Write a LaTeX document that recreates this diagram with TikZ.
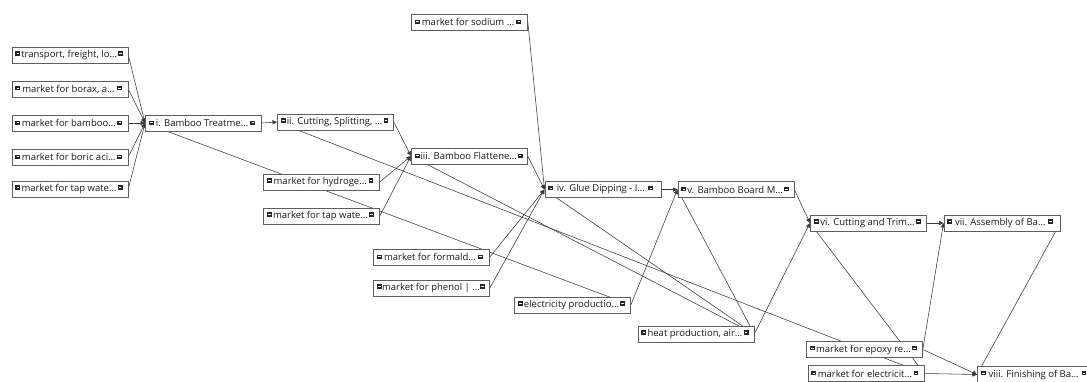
\documentclass[tikz,border=0pt]{standalone}
\usepackage{fontspec}
\setmainfont{Open Sans}
\usetikzlibrary{arrows.meta}
\pgfdeclarelayer{background}
\pgfsetlayers{background,main}

\definecolor{boxline}{HTML}{5E5E5E}
\definecolor{linkline}{HTML}{3A3A3A}
\definecolor{icondark}{HTML}{262626}
\definecolor{txt}{HTML}{1A1A1A}

% small expand/collapse marker shown at both ends of a process box
\newcommand{\boxicon}{\raisebox{1.6pt}{\rlap{\color{icondark}\rule{4.8pt}{4.4pt}}\hspace{1.1pt}\color{white}\rule[1.7pt]{2.6pt}{1pt}\hspace{1.1pt}}}
\newcommand{\proclabel}[1]{\makebox[116pt][l]{\hspace{3.5pt}\boxicon\hfil#1\hfil\boxicon\hspace{4pt}}}

\tikzset{
  proc/.style={draw=boxline, line width=0.8pt, fill=white, rectangle,
    minimum width=116pt, minimum height=16pt, inner sep=0pt, anchor=west,
    font=\fontsize{9.5}{11}\selectfont, text=txt},
  link/.style={draw=linkline, line width=0.55pt,
    -{Triangle[length=4.5pt,width=4.2pt]}},
}

\begin{document}
\begin{tikzpicture}[x=1pt,y=-1pt]
\useasboundingbox (0,0) rectangle (1087,381);
\begin{pgfonlayer}{background}
  \fill[white] (0,0) rectangle (1087,381);
\end{pgfonlayer}

% inputs of stage i
\node[proc] (transport) at (11.5,55)  {\proclabel{transport, freight, lo…}};
\node[proc] (borax)     at (11.5,89)  {\proclabel{market for borax, a…}};
\node[proc] (bamboo)    at (11.5,123) {\proclabel{market for bamboo…}};
\node[proc] (boric)     at (11.5,157) {\proclabel{market for boric aci…}};
\node[proc] (tapA)      at (11.5,189) {\proclabel{market for tap wate…}};

% process chain
\node[proc] (s1) at (145,123)   {\proclabel{i. Bamboo Treatme…}};
\node[proc] (s2) at (277,122)   {\proclabel{ii. Cutting, Splitting, …}};
\node[proc] (s3) at (411,156)   {\proclabel{iii. Bamboo Flattene…}};
\node[proc] (s4) at (544.5,189.5) {\proclabel{iv. Glue Dipping - I…}};
\node[proc] (s5) at (677.5,189.5) {\proclabel{v. Bamboo Board M…}};
\node[proc] (s6) at (810,223)   {\proclabel{vi. Cutting and Trim…}};
\node[proc] (s7) at (943.5,223) {\proclabel{vii. Assembly of Ba…}};
\node[proc] (s8) at (977,374.5) {\proclabel{viii. Finishing of Ba…}};

% other providers
\node[proc] (hydrogen) at (263,182)   {\proclabel{market for hydroge…}};
\node[proc] (tapB)     at (263,216)   {\proclabel{market for tap wate…}};
\node[proc] (sodium)   at (411,22)    {\proclabel{market for sodium …}};
\node[proc] (formald)  at (373,257)   {\proclabel{market for formald…}};
\node[proc] (phenol)   at (373,288)   {\proclabel{market for phenol | …}};
\node[proc] (elecprod) at (514,305)   {\proclabel{electricity productio…}};
\node[proc] (heat)     at (637.5,334) {\proclabel{heat production, air…}};
\node[proc] (epoxy)    at (806,349.5) {\proclabel{market for epoxy re…}};
\node[proc] (mktelec)  at (807.5,373.5) {\proclabel{market for electricit…}};

\begin{pgfonlayer}{background}
  % stage i
  \draw[link] (transport.east) -- (s1.west);
  \draw[link] (borax.east) -- (s1.west);
  \draw[link] (bamboo.east) -- (s1.west);
  \draw[link] (boric.east) -- (s1.west);
  \draw[link] (tapA.east) -- (s1.west);
  \draw[link] (elecprod.east) -- (s1.west);
  % stage ii
  \draw[link] (s1.east) -- (s2.west);
  \draw[link] (mktelec.east) -- (s2.west);
  % stage iii
  \draw[link] (s2.east) -- (s3.west);
  \draw[link] (hydrogen.east) -- (s3.west);
  \draw[link] (tapB.east) -- (s3.west);
  \draw[link] (heat.east) -- (s3.west);
  % stage iv
  \draw[link] (sodium.east) -- (s4.west);
  \draw[link] (s3.east) -- (s4.west);
  \draw[link] (formald.east) -- (s4.west);
  \draw[link] (phenol.east) -- (s4.west);
  \draw[link] (heat.east) -- (s4.west);
  % stage v
  \draw[link] (s4.east) -- (s5.west);
  \draw[link] (elecprod.east) -- (s5.west);
  \draw[link] (heat.east) -- (s5.west);
  % stage vi
  \draw[link] (s5.east) -- (s6.west);
  \draw[link] (heat.east) -- (s6.west);
  \draw[link] (mktelec.east) -- (s6.west);
  % stage vii
  \draw[link] (s6.east) -- (s7.west);
  \draw[link] (epoxy.east) -- (s7.west);
  % stage viii
  \draw[link] (s7.east) -- (s8.west);
  \draw[link] (epoxy.east) -- (s8.west);
  \draw[link] (mktelec.east) -- (s8.west);
\end{pgfonlayer}
\end{tikzpicture}
\end{document}
